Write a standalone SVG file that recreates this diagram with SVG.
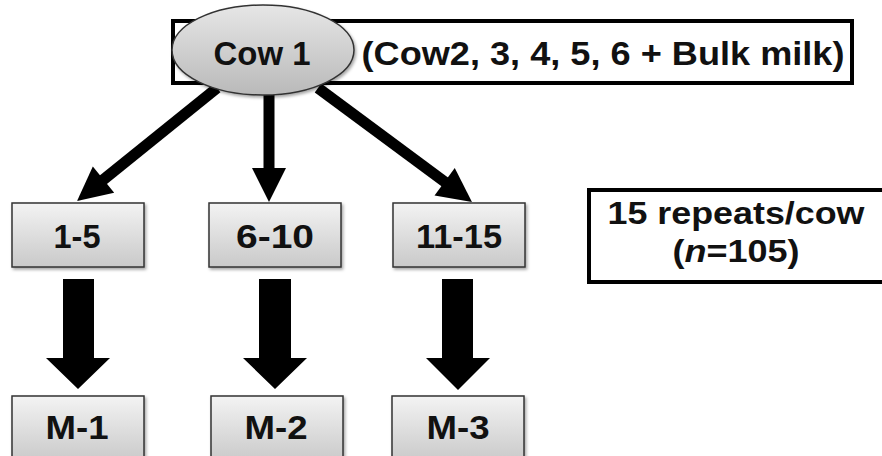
<svg xmlns="http://www.w3.org/2000/svg" width="882" height="456" viewBox="0 0 882 456">
<style>
.t{font-family:"Liberation Sans",Arial,sans-serif;font-weight:bold;fill:#111;text-anchor:middle}
.box{fill:url(#bg);stroke:#333;stroke-width:1.5}
.frame{fill:#fff;stroke:#000;stroke-width:4}
.ln{stroke:#000;stroke-width:11;fill:none}
.blk{fill:#000}
</style>
<defs>
<linearGradient id="bg" x1="0" y1="0" x2="0" y2="1">
<stop offset="0" stop-color="#f3f3f3"/>
<stop offset="1" stop-color="#c9c9c9"/>
</linearGradient>
<linearGradient id="eg" x1="0" y1="0" x2="0" y2="1">
<stop offset="0" stop-color="#e6e6e6"/>
<stop offset="1" stop-color="#b9b9b9"/>
</linearGradient>
<filter id="sh" x="-10%" y="-10%" width="130%" height="130%">
<feDropShadow dx="1.5" dy="2" stdDeviation="1.5" flood-color="#000" flood-opacity="0.35"/>
</filter>
<marker id="ah" markerUnits="userSpaceOnUse" markerWidth="40" markerHeight="40" viewBox="0 -20 36 40" refX="14" refY="0" orient="auto">
<path d="M0,-17 L34,0 L0,17 z" fill="#000"/>
</marker>
</defs>
<g id="header">
<rect class="frame" x="173" y="21" width="679" height="62"/>
<text class="t" x="603" y="65" font-size="33" textLength="483" lengthAdjust="spacingAndGlyphs">(Cow2, 3, 4, 5, 6 + Bulk milk)</text>
</g>
<g id="connectors">
<line class="ln" x1="217" y1="88" x2="92.6" y2="188.4" marker-end="url(#ah)"/>
<line class="ln" x1="269" y1="92" x2="269" y2="182" marker-end="url(#ah)"/>
<line class="ln" x1="318" y1="88" x2="455.9" y2="190.1" marker-end="url(#ah)"/>
<polygon class="blk" points="63,279 94,279 94,358 110,358 78,389 46,358 63,358"/>
<polygon class="blk" points="259,279 291,279 291,358 307,358 275,389 243,358 259,358"/>
<polygon class="blk" points="442,279 473,279 473,358 490,358 458,390 426,358 442,358"/>
</g>
<g id="cow1">
<ellipse cx="263" cy="50" rx="91" ry="45" fill="url(#eg)" stroke="#333" stroke-width="1.5" filter="url(#sh)"/>
<text class="t" x="262" y="65" font-size="33" textLength="97" lengthAdjust="spacingAndGlyphs">Cow 1</text>
</g>
<g id="b1-5">
<rect class="box" x="12" y="203" width="132" height="64" filter="url(#sh)"/>
<text class="t" x="77" y="248" font-size="34" textLength="47" lengthAdjust="spacingAndGlyphs">1-5</text>
</g>
<g id="b6-10">
<rect class="box" x="209" y="203" width="132" height="64" filter="url(#sh)"/>
<text class="t" x="275" y="248" font-size="34" textLength="78" lengthAdjust="spacingAndGlyphs">6-10</text>
</g>
<g id="b11-15">
<rect class="box" x="393" y="203" width="132" height="64" filter="url(#sh)"/>
<text class="t" x="459" y="248" font-size="34" textLength="86" lengthAdjust="spacingAndGlyphs">11-15</text>
</g>
<g id="m1">
<rect class="box" x="12" y="396" width="132" height="66" filter="url(#sh)"/>
<text class="t" x="77" y="439" font-size="34" textLength="63" lengthAdjust="spacingAndGlyphs">M-1</text>
</g>
<g id="m2">
<rect class="box" x="211" y="396" width="132" height="66" filter="url(#sh)"/>
<text class="t" x="276" y="439" font-size="34" textLength="63" lengthAdjust="spacingAndGlyphs">M-2</text>
</g>
<g id="m3">
<rect class="box" x="392" y="396" width="132" height="66" filter="url(#sh)"/>
<text class="t" x="458" y="439" font-size="34" textLength="63" lengthAdjust="spacingAndGlyphs">M-3</text>
</g>
<g id="note">
<rect class="frame" x="589" y="190" width="295" height="92"/>
<text class="t" x="736" y="224" font-size="32" textLength="257" lengthAdjust="spacingAndGlyphs">15 repeats/cow</text>
<text class="t" x="736" y="262" font-size="32" textLength="127" lengthAdjust="spacingAndGlyphs">(<tspan font-style="italic">n</tspan>=105)</text>
</g>
</svg>
